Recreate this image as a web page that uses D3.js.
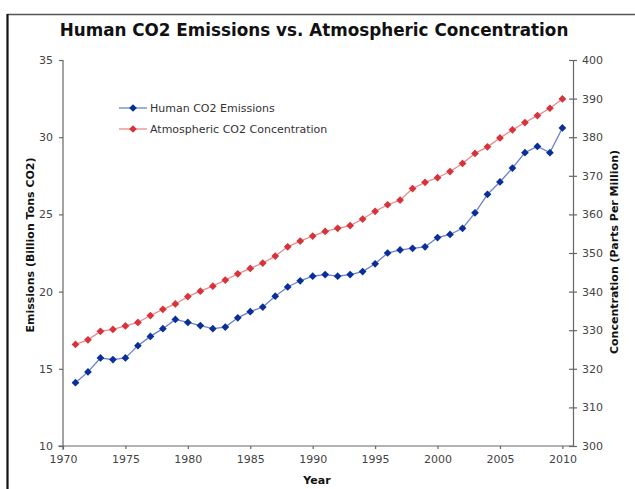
<!DOCTYPE html>
<html>
<head>
<meta charset="utf-8">
<script src="https://cdn.jsdelivr.net/npm/d3@7/dist/d3.min.js"></script>
<style>
  html, body { margin: 0; padding: 0; background: #fff; }
  svg { display: block; }
  text { font-family: "DejaVu Sans", Verdana, sans-serif; }
</style>
</head>
<body>
<svg id="chart" width="635" height="489"></svg>
<script>
const years = [1971,1972,1973,1974,1975,1976,1977,1978,1979,1980,
               1981,1982,1983,1984,1985,1986,1987,1988,1989,1990,
               1991,1992,1993,1994,1995,1996,1997,1998,1999,2000,
               2001,2002,2003,2004,2005,2006,2007,2008,2009,2010];
const emissions = [14.1,14.8,15.7,15.6,15.7,16.5,17.1,17.6,18.2,18.0,
                   17.8,17.6,17.7,18.3,18.7,19.0,19.7,20.3,20.7,21.0,
                   21.1,21.0,21.1,21.3,21.8,22.5,22.7,22.8,22.9,23.5,
                   23.7,24.1,25.1,26.3,27.1,28.0,29.0,29.4,29.0,30.6];
const concentration = [326.3,327.5,329.7,330.2,331.1,332.0,333.8,335.4,336.8,338.7,
                       340.1,341.4,343.0,344.6,346.0,347.4,349.2,351.6,353.1,354.4,
                       355.6,356.4,357.1,358.8,360.8,362.5,363.7,366.7,368.3,369.5,
                       371.1,373.2,375.8,377.5,379.8,381.9,383.8,385.6,387.5,389.9];
const xTicks = [1970,1975,1980,1985,1990,1995,2000,2005,2010];
const leftTicks = [10,15,20,25,30,35];
const rightTicks = [300,310,320,330,340,350,360,370,380,390,400];
const seriesNames = ["Human CO2 Emissions", "Atmospheric CO2 Concentration"];

const svg = d3.select("#chart");
const L = 63, R = 573, T = 60, B = 446;

const x = d3.scaleLinear().domain([1970, 2010.85]).range([L, R]);
const yL = d3.scaleLinear().domain([10, 35]).range([B, T]);
const yR = d3.scaleLinear().domain([300, 400]).range([B, T]);

// frame
svg.append("line").attr("x1", 7).attr("x2", 635).attr("y1", 14.5).attr("y2", 14.5)
  .attr("stroke", "#555").attr("stroke-width", 1.5);
svg.append("line").attr("x1", 7.5).attr("x2", 7.5).attr("y1", 14).attr("y2", 489)
  .attr("stroke", "#111").attr("stroke-width", 2.2);

// title
svg.append("text").attr("x", 314).attr("y", 36).attr("text-anchor", "middle")
  .attr("font-weight", "bold").attr("font-size", 16.8).attr("fill", "#111")
  .text("Human CO2 Emissions vs. Atmospheric Concentration");

const axisColor = "#666", labelColor = "#444";

function styleAxis(g) {
  g.selectAll("path, line").attr("stroke", axisColor).attr("stroke-width", 1.2);
  g.selectAll("text").attr("fill", labelColor).attr("font-size", 11)
    .attr("font-family", "DejaVu Sans, Verdana, sans-serif");
}

// bottom axis
const gx = svg.append("g").attr("transform", `translate(0,${B})`)
  .call(d3.axisBottom(x).tickValues(xTicks).tickFormat(d3.format("d")).tickSizeInner(3).tickSizeOuter(0).tickPadding(6));
styleAxis(gx);
gx.select(".domain").attr("d", `M${L - 5},0H${R}`);

// left axis
const gl = svg.append("g").attr("transform", `translate(${L},0)`)
  .call(d3.axisLeft(yL).tickValues(leftTicks).tickSizeInner(4).tickSizeOuter(0).tickPadding(6));
styleAxis(gl);
gl.select(".domain").attr("d", `M0,${T}V${B + 4}`);

// right axis
const gr = svg.append("g").attr("transform", `translate(${R},0)`)
  .call(d3.axisRight(yR).tickValues(rightTicks).tickSizeInner(4).tickSizeOuter(0).tickPadding(5));
styleAxis(gr);
gr.selectAll(".tick line").attr("x1", -4);

// axis titles
svg.append("text").attr("transform", "translate(34,245) rotate(-90)")
  .attr("text-anchor", "middle").attr("font-weight", "bold").attr("font-size", 11).attr("fill", "#111")
  .text("Emissions (Billion Tons CO2)");
svg.append("text").attr("transform", "translate(618,252) rotate(-90)")
  .attr("text-anchor", "middle").attr("font-weight", "bold").attr("font-size", 11).attr("fill", "#111")
  .text("Concentration (Parts Per Million)");
svg.append("text").attr("x", 317).attr("y", 484).attr("text-anchor", "middle")
  .attr("font-weight", "bold").attr("font-size", 11).attr("fill", "#111").text("Year");

const diamond = d3.symbol().type(d3.symbolSquare).size(30);

function drawSeries(vals, yScale, lineColor, markColor) {
  const data = years.map((yr, i) => ({yr, v: vals[i]}));
  svg.append("path").datum(data)
    .attr("fill", "none").attr("stroke", lineColor).attr("stroke-width", 1.3)
    .attr("d", d3.line().x(d => x(d.yr)).y(d => yScale(d.v)));
  svg.append("g").selectAll("path").data(data).join("path")
    .attr("d", diamond)
    .attr("transform", d => `translate(${x(d.yr)},${yScale(d.v)}) rotate(45)`)
    .attr("fill", markColor);
}

const blueLine = "#6a82cc", blueMark = "#0a2f9a";
const redLine = "#ec8a8a", redMark = "#d8323a";
drawSeries(concentration, yR, redLine, redMark);
drawSeries(emissions, yL, blueLine, blueMark);

// legend
const legend = [
  {name: seriesNames[0], line: blueLine, mark: blueMark, y: 108},
  {name: seriesNames[1], line: redLine, mark: redMark, y: 129}
];
const lg = svg.append("g");
legend.forEach(s => {
  lg.append("line").attr("x1", 119).attr("x2", 147).attr("y1", s.y).attr("y2", s.y)
    .attr("stroke", s.line).attr("stroke-width", 1.3);
  lg.append("path").attr("d", diamond).attr("transform", `translate(133,${s.y}) rotate(45)`).attr("fill", s.mark);
  lg.append("text").attr("x", 150).attr("y", s.y + 4).attr("font-size", 11).attr("fill", "#333").text(s.name);
});
</script>
</body>
</html>
